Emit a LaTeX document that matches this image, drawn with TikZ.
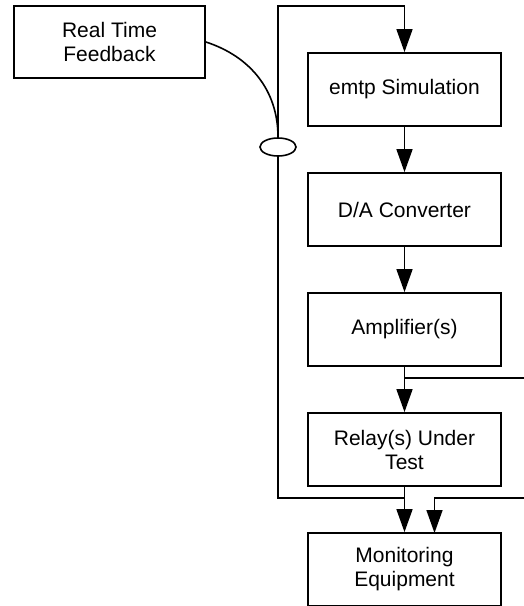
\documentclass[tikz,border=0pt]{standalone}
\usepackage{fontspec}
\setmainfont{Liberation Sans}
\usetikzlibrary{arrows.meta,shapes.geometric}
\begin{document}
\begin{tikzpicture}[x=1pt,y=-1pt,
  box/.style={draw,line width=1.8pt,minimum width=193pt,minimum height=73pt,align=center,inner sep=0pt,font=\fontsize{21}{24}\selectfont},
  ln/.style={line width=1.6pt},
  arr/.style={ln,-{Triangle[length=23pt,width=16pt]}}]
\useasboundingbox (0,0) rectangle (524,606);
\node[box,minimum width=191pt,minimum height=72pt] (rtf) at (109.5,42) {Real Time\\Feedback};
\node[box] (emtp) at (404.5,89.5) {emtp Simulation};
\node[box] (da) at (404.5,209.5) {D/A Converter};
\node[box] (amp) at (404.5,329.5) {Amplifier(s)};
\node[box] (rel) at (404.5,449.5) {Relay(s) Under\\Test};
\node[box] (mon) at (404.5,569.5) {Monitoring\\Equipment};
\node[draw,ln,ellipse,minimum width=36pt,minimum height=18pt,inner sep=0pt] (ell) at (278,147) {};
\coordinate (tl) at (278,6);
\coordinate (bl) at (278,498);
\coordinate (r1) at (524,378);
\coordinate (r2) at (524,498);
\coordinate (m2) at (434.5,533);
\draw[arr] (ell.north) -- (tl) -| (emtp.north);
\draw[arr] (emtp) -- (da);
\draw[arr] (da) -- (amp);
\draw[arr] (amp) -- (rel);
\draw[arr] (rel) -- (mon);
\draw[ln] (r1) -- (amp.south |- r1);
\draw[ln] (ell.south) -- (bl) -- (rel.south |- bl);
\draw[arr] (r2) -| (m2);
\draw[ln] (rtf.east) to[out=-18,in=90] (ell.north);
\end{tikzpicture}
\end{document}
